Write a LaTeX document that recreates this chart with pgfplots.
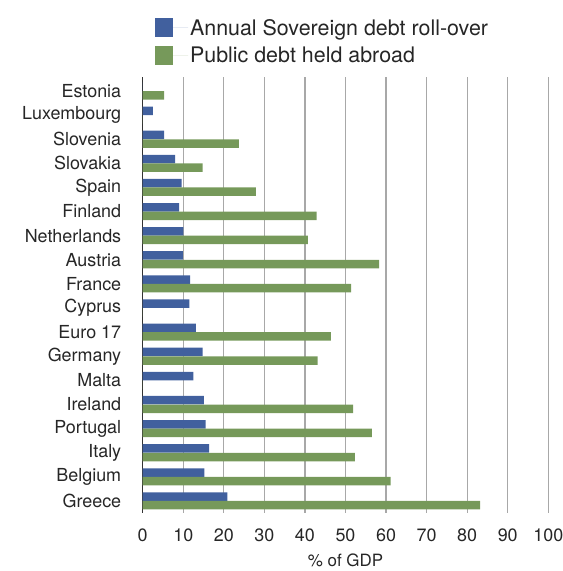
\documentclass[border=0pt]{standalone}
\usepackage{fontspec}
\setmainfont{TeX Gyre Heros}
\usepackage{pgfplots}
\pgfplotsset{compat=1.18}
\definecolor{blueC}{HTML}{41609E}
\definecolor{greenC}{HTML}{76995A}
\definecolor{gridC}{HTML}{A8A8A8}
\begin{document}
\begin{tikzpicture}
\useasboundingbox (-142.7bp,-58bp) rectangle (420.3bp,513bp);
\begin{axis}[
  at={(0,0)}, anchor=south west,
  scale only axis, width=405.6bp, height=436bp,
  xbar, bar width=8.5bp,
  xmin=0, xmax=100, ymin=-0.58, ymax=17.5, y dir=reverse,
  axis lines*=left,
  x axis line style={draw=none},
  y axis line style={draw=black!80, line width=1.6bp},
  xtick={0,10,...,100},
  ytick={0,...,17},
  yticklabels={Estonia,Luxembourg,Slovenia,Slovakia,Spain,Finland,Netherlands,Austria,France,Cyprus,Euro 17,Germany,Malta,Ireland,Portugal,Italy,Belgium,Greece},
  major tick length=0pt,
  xmajorgrids,
  grid style={gridC, line width=1.2bp},
  /pgf/number format/assume math mode=true,
  xticklabel style={font=\fontsize{18}{20}\selectfont, text=black!85, yshift=-12bp},
  yticklabel style={font=\fontsize{18}{20}\selectfont, text=black!85, xshift=-18bp},
  xlabel={\% of GDP},
  xlabel style={font=\fontsize{17}{20}\selectfont, text=black!85, yshift=-5bp},
  legend style={at={(0.03,1.1376)}, anchor=north west, draw=none, fill=none,
    font=\fontsize{21.5}{24}\selectfont, text=black!85, row sep=6.5bp, inner sep=0pt},
  legend cell align=left,
]
\addplot[fill=blueC, draw=none, bar shift=4.3bp,
  legend image code/.code={\fill[blueC] (0bp,-9.5bp) rectangle (18bp,9.5bp); \path (0bp,0bp) -- (33bp,0bp);}]
  coordinates {
  (0,0) (2.5,1) (5.3,2) (8.0,3) (9.6,4) (9.0,5) (10.0,6) (9.9,7) (11.7,8)
  (11.5,9) (13.1,10) (14.8,11) (12.5,12) (15.1,13) (15.5,14) (16.4,15) (15.2,16) (20.9,17)};
\addlegendentry{Annual Sovereign debt roll-over}
\addplot[fill=greenC, draw=none, bar shift=-4.3bp,
  legend image code/.code={\fill[greenC] (0bp,-9.5bp) rectangle (18bp,9.5bp); \path (0bp,0bp) -- (33bp,0bp);}]
  coordinates {
  (5.3,0) (0,1) (23.7,2) (14.8,3) (27.9,4) (42.9,5) (40.7,6) (58.3,7) (51.4,8)
  (0,9) (46.4,10) (43.1,11) (0,12) (51.9,13) (56.5,14) (52.3,15) (61.1,16) (83.2,17)};
\addlegendentry{Public debt held abroad}
\end{axis}
\end{tikzpicture}
\end{document}
